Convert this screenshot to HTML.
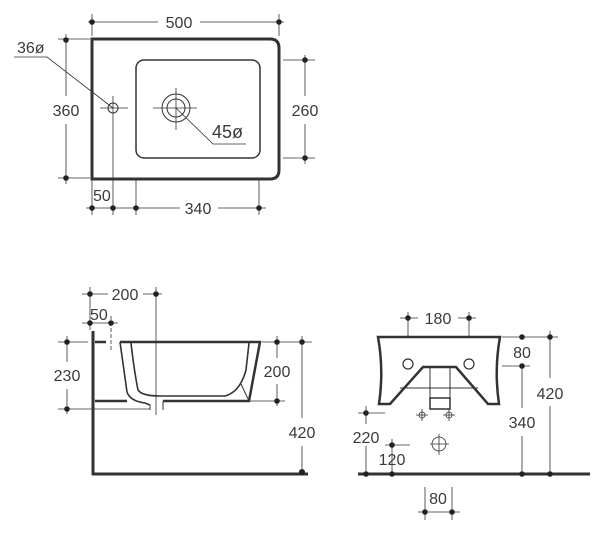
<!DOCTYPE html>
<html><head><style>
html,body{margin:0;padding:0;background:#fff;}
svg{display:block;}
text{font-family:"Liberation Sans",sans-serif;font-size:16px;fill:#3a3a3a;}
</style></head><body>
<svg width="600" height="533" viewBox="0 0 600 533" xmlns="http://www.w3.org/2000/svg">
<g stroke="#333" fill="none">
<path d="M92,39 H270 Q279,39 279,48 V170 Q279,179 270,179 H92 Z" stroke-width="3"/>
<rect x="136" y="60" width="124" height="98" rx="8" stroke-width="1.5"/>
<circle cx="113" cy="108" r="5" stroke-width="1"/>
<line x1="100" y1="108" x2="128" y2="108" stroke-width="0.8"/>
<line x1="113" y1="96" x2="113" y2="124" stroke-width="0.8"/>
<circle cx="176" cy="108" r="14" stroke-width="1"/>
<circle cx="176" cy="108" r="9" stroke-width="1"/>
<line x1="153" y1="108" x2="197" y2="108" stroke-width="0.8"/>
<line x1="176" y1="88" x2="176" y2="130" stroke-width="0.8"/>
<polyline points="14,57 47,57 113,108" stroke-width="0.8"/>
<polyline points="176,108 213,144 246,144" stroke-width="0.8"/>
<g stroke-width="0.8">
<line x1="92" y1="14" x2="92" y2="36"/><line x1="279" y1="14" x2="279" y2="36"/>
<line x1="88" y1="22" x2="158" y2="22"/><line x1="200" y1="22" x2="284" y2="22"/>
<line x1="58" y1="39" x2="90" y2="39"/><line x1="58" y1="178" x2="90" y2="178"/>
<line x1="66" y1="34" x2="66" y2="96"/><line x1="66" y1="124" x2="66" y2="184"/>
<line x1="283" y1="60" x2="315" y2="60"/><line x1="283" y1="158" x2="315" y2="158"/>
<line x1="305" y1="55" x2="305" y2="96"/><line x1="305" y1="124" x2="305" y2="164"/>
<line x1="92" y1="180" x2="92" y2="215"/><line x1="113" y1="124" x2="113" y2="215"/>
<line x1="136" y1="180" x2="136" y2="215"/><line x1="259" y1="180" x2="259" y2="215"/>
<line x1="86" y1="208" x2="140" y2="208"/>
<line x1="136" y1="208" x2="180" y2="208"/><line x1="218" y1="208" x2="266" y2="208"/>
</g>
<line x1="93" y1="331" x2="93" y2="475" stroke-width="3"/>
<line x1="92" y1="474" x2="308" y2="474" stroke-width="3"/>
<path d="M95,342 H106 M120,342 H260 L249,401 H163 M127,401 H95" stroke-width="2.5"/>
<path d="M120,342 L127,392 Q130,401 145,403 L150,405 M131,343 Q134,370 138,390 Q142,396 160,396 H225 Q240,392 246,370 L249,343" stroke-width="1.6"/>
<path d="M150,405 V410 M163,401 V410 M241,384 L249,401" stroke-width="1"/>
<g stroke-width="0.8">
<line x1="82" y1="294" x2="108" y2="294"/><line x1="143" y1="294" x2="162" y2="294"/>
<line x1="90" y1="287" x2="90" y2="330"/><line x1="156" y1="287" x2="156" y2="415"/>
<line x1="82" y1="323" x2="118" y2="323"/><line x1="111" y1="316" x2="111" y2="350" stroke-dasharray="4,2"/>
<line x1="58" y1="342" x2="88" y2="342"/><line x1="58" y1="409" x2="150" y2="409"/>
<line x1="67" y1="336" x2="67" y2="362"/><line x1="67" y1="389" x2="67" y2="414"/>
<line x1="262" y1="342" x2="312" y2="342"/><line x1="250" y1="401" x2="285" y2="401"/>
<line x1="277" y1="336" x2="277" y2="358"/><line x1="277" y1="384" x2="277" y2="406"/>
<line x1="302" y1="336" x2="302" y2="418"/><line x1="302" y1="446" x2="302" y2="474"/>
</g>
<path d="M378,337 H500 Q494,370 499,404 H488 L456,367 H423 L390,404 H379 Q384,370 378,337 Z" stroke-width="2.5"/>
<circle cx="408" cy="364" r="5" stroke-width="1.2"/>
<circle cx="469" cy="364" r="5" stroke-width="1.2"/>
<path d="M430,367 V398 M450,367 V398 M400,388 H478" stroke-width="1"/>
<rect x="430" y="398" width="20" height="11" stroke-width="1.5"/>
<g stroke-width="0.8">
<circle cx="422" cy="415" r="3"/><line x1="416" y1="415" x2="428" y2="415"/><line x1="422" y1="409" x2="422" y2="421"/>
<circle cx="449" cy="415" r="3"/><line x1="443" y1="415" x2="455" y2="415"/><line x1="449" y1="409" x2="449" y2="421"/>
<circle cx="439" cy="444" r="7"/><line x1="430" y1="444" x2="449" y2="444"/><line x1="439" y1="434" x2="439" y2="455"/>
</g>
<line x1="358" y1="474" x2="590" y2="474" stroke-width="3"/>
<g stroke-width="0.8">
<line x1="408" y1="312" x2="408" y2="336"/><line x1="469" y1="312" x2="469" y2="336"/>
<line x1="400" y1="318" x2="418" y2="318"/><line x1="458" y1="318" x2="476" y2="318"/>
<line x1="502" y1="337" x2="558" y2="337"/><line x1="502" y1="366" x2="530" y2="366"/>
<line x1="522" y1="366" x2="522" y2="408"/><line x1="522" y1="436" x2="522" y2="474"/>
<line x1="550" y1="331" x2="550" y2="378"/><line x1="550" y1="406" x2="550" y2="474"/>
<line x1="358" y1="413" x2="385" y2="413"/><line x1="366" y1="406" x2="366" y2="424"/><line x1="366" y1="446" x2="366" y2="474"/>
<line x1="385" y1="445" x2="410" y2="445"/><line x1="392" y1="439" x2="392" y2="474"/>
<line x1="425" y1="487" x2="425" y2="520"/><line x1="452" y1="487" x2="452" y2="520"/>
<line x1="418" y1="512" x2="460" y2="512"/>
</g>
</g>
<g fill="#222">
<circle cx="92" cy="22" r="2.8"/><circle cx="279" cy="22" r="2.8"/>
<circle cx="66" cy="40" r="2.8"/><circle cx="66" cy="178" r="2.8"/>
<circle cx="305" cy="60" r="2.8"/><circle cx="305" cy="158" r="2.8"/>
<circle cx="92" cy="208" r="2.8"/><circle cx="113" cy="208" r="2.8"/><circle cx="136" cy="208" r="2.8"/><circle cx="259" cy="208" r="2.8"/>
<circle cx="90" cy="294" r="2.8"/><circle cx="156" cy="294" r="2.8"/>
<circle cx="90" cy="323" r="2.8"/><circle cx="111" cy="323" r="2.8"/>
<circle cx="67" cy="342" r="2.8"/><circle cx="67" cy="409" r="2.8"/>
<circle cx="277" cy="342" r="2.8"/><circle cx="277" cy="401" r="2.8"/>
<circle cx="302" cy="342" r="2.8"/><circle cx="302" cy="472" r="3"/>
<circle cx="408" cy="318" r="2.8"/><circle cx="469" cy="318" r="2.8"/>
<circle cx="522" cy="337" r="2.8"/><circle cx="522" cy="366" r="2.8"/><circle cx="550" cy="337" r="2.8"/>
<circle cx="522" cy="474" r="2.8"/><circle cx="550" cy="474" r="2.8"/>
<circle cx="366" cy="413" r="2.8"/><circle cx="366" cy="474" r="2.8"/>
<circle cx="392" cy="445" r="2.8"/><circle cx="392" cy="474" r="2.8"/>
<circle cx="425" cy="512" r="2.8"/><circle cx="452" cy="512" r="2.8"/>
</g>
<text x="179" y="28" text-anchor="middle">500</text>
<text x="17" y="53">36ø</text>
<text x="66" y="116" text-anchor="middle">360</text>
<text x="305" y="116" text-anchor="middle">260</text>
<text x="212" y="138" style="font-size:18px">45ø</text>
<text x="93" y="201">50</text>
<text x="198" y="214" text-anchor="middle">340</text>
<text x="125" y="300" text-anchor="middle">200</text>
<text x="90" y="320">50</text>
<text x="67" y="381" text-anchor="middle">230</text>
<text x="277" y="377" text-anchor="middle">200</text>
<text x="302" y="438" text-anchor="middle">420</text>
<text x="438" y="324" text-anchor="middle">180</text>
<text x="522" y="358" text-anchor="middle">80</text>
<text x="550" y="399" text-anchor="middle">420</text>
<text x="522" y="428" text-anchor="middle">340</text>
<text x="366" y="443" text-anchor="middle">220</text>
<text x="392" y="465" text-anchor="middle">120</text>
<text x="438" y="504" text-anchor="middle">80</text>
</svg>
</body></html>
